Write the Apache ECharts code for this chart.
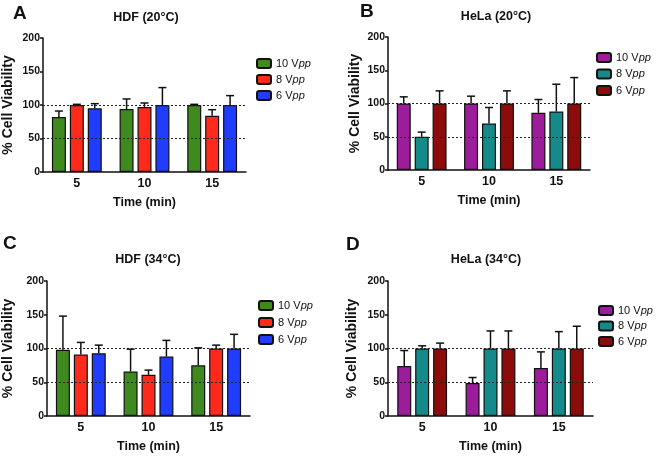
<!DOCTYPE html>
<html><head><meta charset="utf-8">
<script src="https://cdn.jsdelivr.net/npm/echarts@6/dist/echarts.min.js"></script>
<style>
html,body{margin:0;padding:0;background:#fff;}
.p{position:absolute;width:328px;height:228px;}
</style></head>
<body>
<div id="A" class="p" style="left:0;top:0"></div>
<div id="B" class="p" style="left:328px;top:0"></div>
<div id="C" class="p" style="left:0;top:228px;height:229px"></div>
<div id="D" class="p" style="left:328px;top:228px;height:229px"></div>
<script>
// ---- data ----
const categories = ['5', '10', '15'];
const seriesNames = ['10 Vpp', '8 Vpp', '6 Vpp'];
const yTicks = [0, 50, 100, 150, 200];
const refLines = [50, 100];

// HDF 20°C  (means, error bar tops)
const hdf20_10 = [82, 94, 100];   const hdf20_10_err = [91, 109, 101];
const hdf20_8  = [100, 97, 84];   const hdf20_8_err  = [101, 103, 93];
const hdf20_6  = [95, 100, 100];  const hdf20_6_err  = [102, 126, 114];
// HeLa 20°C
const hela20_10 = [100, 100, 86]; const hela20_10_err = [110, 111, 106];
const hela20_8  = [50, 70, 88];   const hela20_8_err  = [57, 94, 129];
const hela20_6  = [100, 100, 100];const hela20_6_err  = [119, 119, 139];
// HDF 34°C
const hdf34_10 = [98, 66, 75];    const hdf34_10_err = [148, 99, 101];
const hdf34_8  = [91, 61, 100];   const hdf34_8_err  = [109, 68, 105];
const hdf34_6  = [93, 88, 100];   const hdf34_6_err  = [105, 112, 121];
// HeLa 34°C
const hela34_10 = [74, 49, 71];   const hela34_10_err = [97, 57, 95];
const hela34_8  = [100, 100, 100];const hela34_8_err  = [104, 126, 125];
const hela34_6  = [100, 100, 100];const hela34_6_err  = [108, 126, 133];

const FONT = 'Liberation Sans, Arial, sans-serif';
const hdfColors = ['#3f8a1f', '#ff2a1c', '#1f3cff'];
const helaColors = ['#9c1c9c', '#148a8a', '#8c0c0c'];

function panel(id, cfg) {
  const chart = echarts.init(document.getElementById(id), null, {renderer: 'canvas'});
  const barW = 14, gapRatio = 0.28;
  const step = barW * (1 + gapRatio);
  const series = [];
  cfg.means.forEach((m, k) => {
    series.push({
      name: seriesNames[k], type: 'bar', data: m,
      barWidth: barW, barGap: (gapRatio * 100) + '%',
      itemStyle: {color: cfg.colors[k], borderColor: '#111', borderWidth: 1.2},
      z: 2,
      markLine: k === 0 ? {
        silent: true, symbol: 'none', label: {show: false},
        lineStyle: {type: [2, 2], color: '#222', width: 1},
        data: refLines.map(v => ({yAxis: v}))
      } : undefined
    });
  });
  cfg.tops.forEach((t, k) => {
    const off = (k - 1) * step;
    series.push({
      name: 'err' + k, type: 'custom', z: 3,
      data: t.map((v, i) => [i, cfg.means[k][i], v]),
      renderItem: function (params, api) {
        const base = api.coord([api.value(0), api.value(1)]);
        const top = api.coord([api.value(0), api.value(2)]);
        const x = base[0] + off;
        return {type: 'group', children: [
          {type: 'line', shape: {x1: x, y1: base[1], x2: x, y2: top[1]}, style: {stroke: '#111', lineWidth: 1.5}},
          {type: 'line', shape: {x1: x - 4, y1: top[1], x2: x + 4, y2: top[1]}, style: {stroke: '#111', lineWidth: 1.5}}
        ]};
      }
    });
  });
  chart.setOption({
    animation: false,
    title: [
      {text: cfg.letter, left: cfg.letterX, top: cfg.letterY, textStyle: {fontFamily: FONT, fontWeight: 'bold', fontSize: 19, color: '#111'}},
      {text: cfg.title, left: cfg.titleX, top: cfg.titleY, textAlign: 'center', textStyle: {fontFamily: FONT, fontWeight: 'bold', fontSize: 12.5, color: '#111'}}
    ],
    legend: {
      data: seriesNames, orient: 'vertical', left: cfg.legX, top: cfg.legY,
      itemWidth: 14, itemHeight: 9, itemGap: cfg.legGap,
      formatter: function (n) { return n.replace('Vpp', 'V{i|pp}'); },
      textStyle: {fontFamily: FONT, fontSize: 11, color: '#111',
        rich: {i: {fontStyle: 'italic', fontFamily: FONT, fontSize: 11, color: '#111'}}}
    },
    grid: {left: cfg.gx, top: cfg.gy, width: cfg.gw, height: cfg.gh, containLabel: false, outerBoundsMode: 'none'},
    xAxis: {
      type: 'category', data: categories,
      name: 'Time (min)', nameLocation: 'middle', nameGap: 24,
      nameTextStyle: {fontFamily: FONT, fontWeight: 'bold', fontSize: 12.5, color: '#111'},
      axisLine: {lineStyle: {color: '#111', width: 1.5}},
      axisTick: {show: false},
      axisLabel: {fontFamily: FONT, fontWeight: 'bold', fontSize: 12.5, color: '#111', margin: 5}
    },
    yAxis: {
      type: 'value', min: 0, max: 200, interval: 50,
      name: '% Cell Viability', nameLocation: 'middle', nameGap: cfg.yGap, nameRotate: 90,
      nameMoveOverlap: false,
      nameTextStyle: {fontFamily: FONT, fontWeight: 'bold', fontSize: 14, color: '#111'},
      axisLine: {show: true, lineStyle: {color: '#111', width: 1.5}},
      axisTick: {show: true, length: 3, lineStyle: {color: '#111', width: 1.5}},
      splitLine: {show: false},
      axisLabel: {fontFamily: FONT, fontWeight: 'bold', fontSize: 10.5, color: '#111', margin: 3,
        formatter: function (v) { return yTicks.indexOf(v) >= 0 ? String(v) : ''; }}
    },
    series: series
  });
}

panel('A', {letter: 'A', letterX: 8, letterY: -1, title: 'HDF (20°C)', titleX: 141, titleY: 6,
  gx: 43, gy: 38, gw: 203, gh: 134, yGap: 28, legX: 251, legY: 53, legGap: 5,
  colors: hdfColors, means: [hdf20_10, hdf20_8, hdf20_6], tops: [hdf20_10_err, hdf20_8_err, hdf20_6_err]});
panel('B', {letter: 'B', letterX: 27, letterY: -3, title: 'HeLa (20°C)', titleX: 163, titleY: 5,
  gx: 60, gy: 37, gw: 202, gh: 133, yGap: 26, legX: 263, legY: 47, legGap: 5.5,
  colors: helaColors, means: [hela20_10, hela20_8, hela20_6], tops: [hela20_10_err, hela20_8_err, hela20_6_err]});
panel('C', {letter: 'C', letterX: -2, letterY: 1, title: 'HDF (34°C)', titleX: 143, titleY: 20,
  gx: 47, gy: 53, gw: 203, gh: 135, yGap: 32, legX: 253, legY: 67, legGap: 6,
  colors: hdfColors, means: [hdf34_10, hdf34_8, hdf34_6], tops: [hdf34_10_err, hdf34_8_err, hdf34_6_err]});
panel('D', {letter: 'D', letterX: 13, letterY: 2, title: 'HeLa (34°C)', titleX: 153, titleY: 20,
  gx: 60, gy: 53, gw: 205, gh: 135, yGap: 29, legX: 265, legY: 72, legGap: 4.5,
  colors: helaColors, means: [hela34_10, hela34_8, hela34_6], tops: [hela34_10_err, hela34_8_err, hela34_6_err]});
</script>
</body></html>
